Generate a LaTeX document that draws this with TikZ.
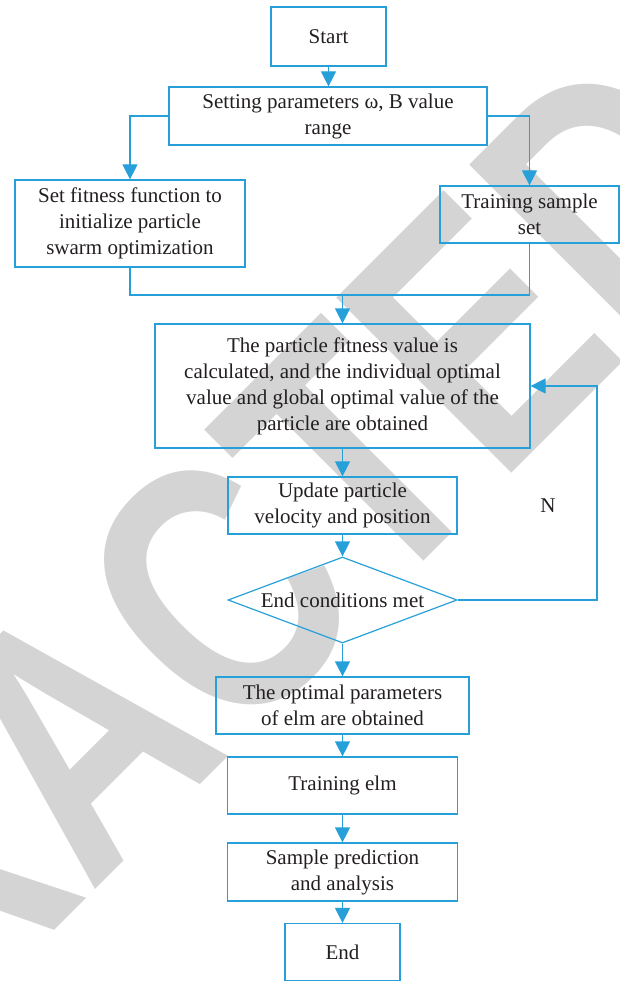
\documentclass[tikz,border=0pt]{standalone}
\usepackage{fontspec}
\setmainfont{Liberation Serif}
\newfontfamily\stampfont[FakeStretch=0.78]{Liberation Sans}
\usepackage{xcolor}
\usetikzlibrary{arrows.meta,shapes.geometric}

\definecolor{flowblue}{RGB}{39,160,218}
\definecolor{inkgray}{RGB}{35,31,32}
\definecolor{stampgray}{RGB}{212,212,212}

\begin{document}
\begin{tikzpicture}[x=1pt, y=-1pt,
  txt/.style={font=\fontsize{21}{26}\selectfont, text=inkgray},
  box/.style={txt, draw=flowblue, line width=1.2pt, align=center, inner sep=0pt},
  cond/.style={box, diamond, aspect=2.6},
  flow/.style={draw=flowblue, line width=1.2pt},
  arr/.style={flow, -{Triangle[width=15pt, length=15pt]}}]
  \useasboundingbox (0,0) rectangle (620,981);

  % Watermark
  \node[rotate=45, text=stampgray, inner sep=0pt,
    font=\stampfont\bfseries\fontsize{360}{360}\selectfont] (stamp) at (75,735) {RETRACTED};

  % Setup
  \node[box, minimum width=115pt, minimum height=59pt] (start) at (328.5,36.5) {Start};
  \node[box, minimum width=318pt, minimum height=58pt] (setting) at (328,116) {Setting parameters ω, B value\\range};
  \node[box, minimum width=230pt, minimum height=87pt] (fitness) at (130,223.5) {Set fitness function to\\initialize particle\\swarm optimization};
  \node[box, minimum width=179pt, minimum height=57pt] (trainset) at (529.5,214.5) {Training sample\\set};
  \coordinate (join) at (342.5,295);

  % Optimisation loop
  \node[box, minimum width=375pt, minimum height=124pt] (calc) at (342.5,386) {The particle fitness value is\\calculated, and the individual optimal\\value and global optimal value of the\\particle are obtained};
  \node[box, minimum width=229pt, minimum height=57pt] (update) at (342.5,505.5) {Update particle\\velocity and position};
  \node[cond, minimum width=229pt, minimum height=86pt] (check) at (342.5,600) {End conditions met};
  \coordinate (back) at (597,600);
  \node[txt] (no) at (548,506) {N};

  % ELM
  \node[box, minimum width=253pt, minimum height=57pt] (optimum) at (342.5,705.5) {The optimal parameters\\of elm are obtained};
  \node[box, minimum width=230pt, minimum height=57pt] (trainelm) at (342.5,785.5) {Training elm};
  \node[box, minimum width=230pt, minimum height=58pt] (predict) at (342.5,872) {Sample prediction\\and analysis};
  \node[box, minimum width=115pt, minimum height=57pt] (finish) at (342.5,952) {End};

  % Connectors
  \draw[arr] (start) -- (start.south |- setting.north);
  \draw[arr] (setting.west) -| (fitness.north);
  \draw[arr] (setting.east) -| (trainset.north);
  \draw[flow] (fitness.south) |- (join) -| (trainset.south);
  \draw[arr] (join) -- (calc);
  \draw[arr] (calc) -- (update);
  \draw[arr] (update) -- (check);
  \draw[arr] (check.east) -- (back) |- (calc.east);
  \draw[arr] (check) -- (optimum);
  \draw[arr] (optimum) -- (trainelm);
  \draw[arr] (trainelm) -- (predict);
  \draw[arr] (predict) -- (finish);
\end{tikzpicture}
\end{document}
